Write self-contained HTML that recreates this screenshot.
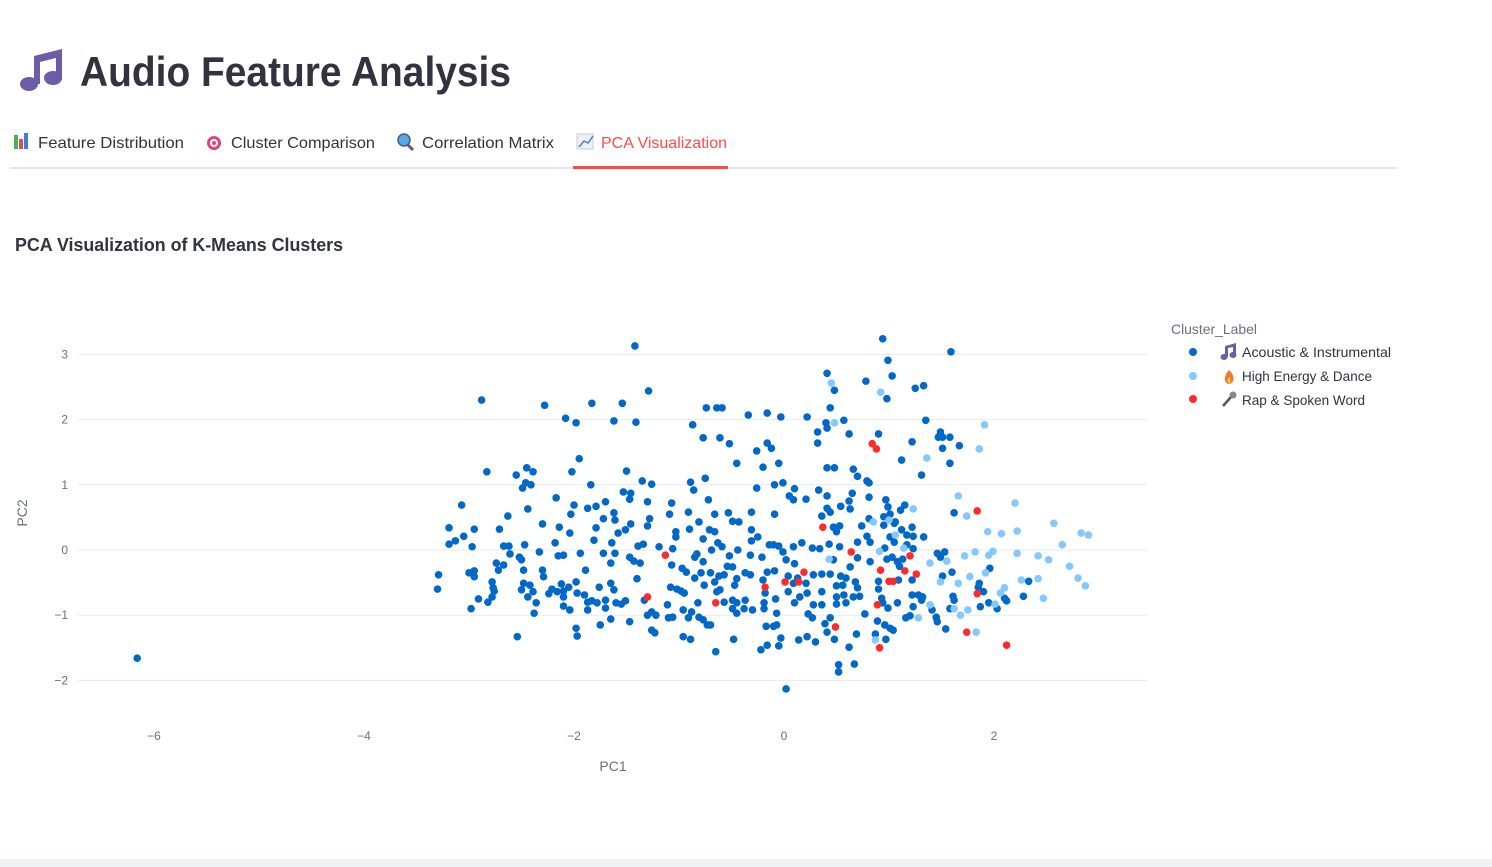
<!DOCTYPE html>
<html><head><meta charset="utf-8"><style>
html,body{margin:0;padding:0;background:#fff;width:1492px;height:867px;overflow:hidden}
svg{display:block;font-family:"Liberation Sans","DejaVu Sans",sans-serif}
</style></head><body>
<svg id="page" width="1492" height="867" viewBox="0 0 1492 867">
<g>
  <g fill="#6f5ca8">
    <path d="M34 56 L62 49 L62 80 L56 80 L56 58 L40 62 L40 84 L34 84 Z"/>
    <ellipse cx="29" cy="84" rx="9" ry="7"/>
    <ellipse cx="53" cy="78" rx="9" ry="7"/>
  </g>
  <text x="80" y="86" font-size="42" fill="#31333f" font-weight="bold" textLength="431" lengthAdjust="spacingAndGlyphs">Audio Feature Analysis</text>
</g>
<g font-size="16">
  <rect x="10" y="167" width="1387" height="2" fill="#e6e6ea"/>
  <g>
    <rect x="14" y="135" width="4" height="14" fill="#4caf50"/><rect x="19" y="139" width="4" height="10" fill="#e04a6a"/><rect x="24" y="133" width="4" height="16" fill="#3f7fd6"/>
    <text x="38" y="148" fill="#31333f" textLength="146" lengthAdjust="spacingAndGlyphs">Feature Distribution</text>
  </g>
  <g>
    <circle cx="214" cy="143" r="7" fill="#e0457a"/><circle cx="214" cy="143" r="4" fill="#fff"/><circle cx="214" cy="143" r="2" fill="#e0457a"/>
    <text x="231" y="148" fill="#31333f" textLength="144" lengthAdjust="spacingAndGlyphs">Cluster Comparison</text>
  </g>
  <g>
    <circle cx="404" cy="140" r="6" fill="#5aa9e6" stroke="#3a5f8a" stroke-width="1.5"/><line x1="408" y1="145" x2="413" y2="150" stroke="#7a4a8a" stroke-width="3"/>
    <text x="422" y="148" fill="#31333f" textLength="132" lengthAdjust="spacingAndGlyphs">Correlation Matrix</text>
  </g>
  <g>
    <rect x="577" y="134" width="16" height="15" fill="#eef0f6" stroke="#c8cbd6" stroke-width="1"/><polyline points="579,147 584,141 588,143 593,136" fill="none" stroke="#4a7fd0" stroke-width="1.5"/>
    <text x="601" y="148" fill="#ff4b4b" textLength="126" lengthAdjust="spacingAndGlyphs">PCA Visualization</text>
    <rect x="573" y="166" width="155" height="3" fill="#ff4b4b"/>
  </g>
</g>
<text x="15" y="251" font-size="18" font-weight="bold" fill="#31333f" textLength="328" lengthAdjust="spacingAndGlyphs">PCA Visualization of K-Means Clusters</text>
<g id="plot"></g>
<g font-size="14">
  <text x="1171" y="334" fill="#6b7080" textLength="86" lengthAdjust="spacingAndGlyphs">Cluster_Label</text>
  <g>
    <circle cx="1193" cy="352" r="4" fill="#0068c9"/>
    <g fill="#6f5ca8"><path d="M1225 346 L1236 343 L1236 355 L1233 355 L1233 347 L1228 348 L1228 357 L1225 357Z"/><ellipse cx="1224" cy="357" rx="3.5" ry="3"/><ellipse cx="1233" cy="355" rx="3.5" ry="3"/></g>
    <text x="1242" y="357" fill="#31333f" textLength="149" lengthAdjust="spacingAndGlyphs">Acoustic &amp; Instrumental</text>
  </g>
  <g>
    <circle cx="1193" cy="376" r="4" fill="#83c9ff"/>
    <path d="M1229 370 C1224 375 1223 383 1229 384 C1235 383 1235 375 1229 370Z" fill="#f07a2a"/><path d="M1229 377 C1227 380 1227 383 1229 383 C1231 383 1231 380 1229 377Z" fill="#ffcb4a"/>
    <text x="1242" y="381" fill="#31333f" textLength="130" lengthAdjust="spacingAndGlyphs">High Energy &amp; Dance</text>
  </g>
  <g>
    <circle cx="1193" cy="399" r="4" fill="#ff2b2b"/>
    <line x1="1223" y1="406" x2="1231" y2="397" stroke="#555" stroke-width="2.5"/><circle cx="1233" cy="395" r="3.5" fill="#888"/>
    <text x="1242" y="405" fill="#31333f" textLength="123" lengthAdjust="spacingAndGlyphs">Rap &amp; Spoken Word</text>
  </g>
</g>
<rect x="0" y="859" width="1492" height="8" fill="#f0f2f6"/>
</svg>
<script>
const xTicks = [-6, -4, -2, 0, 2];
const yTicks = [-2, -1, 0, 1, 2, 3];
const tickLabel = v => v < 0 ? "\u2212" + Math.abs(v) : String(v);
const acousticX = [-6.16,-1.42,-1.29,-2.88,-2.28,-1.83,-1.54,-2.08,-1.98,-1.62,-1.41,-0.87,-0.74,-0.64,-0.59,-0.34,-0.16,-0.77,-0.61,-0.52,-0.26,-0.16,-0.45,-0.20,-2.83,-2.55,-2.45,-2.39,-2.49,-2.46,-2.41,-2.02,-1.95,-1.50,-1.84,-1.35,-1.26,-0.89,-0.75,-0.86,-0.26,-3.07,-2.44,-2.17,-2.00,-2.03,-1.87,-1.79,-1.70,-1.53,-1.46,-1.47,-1.30,-1.07,-0.72,-2.63,-1.62,-1.61,-1.72,-1.28,-1.09,-0.91,-0.66,-0.53,-0.49,-0.43,-0.31,-0.81,-2.30,-2.14,-1.46,-1.30,-3.19,-2.95,-2.71,
0.94,1.59,0.99,0.41,1.03,0.78,0.48,1.25,1.33,0.98,0.44,-0.03,0.22,0.40,0.41,0.57,0.32,0.32,0.62,0.90,1.35,1.22,1.49,1.51,1.47,1.58,1.67,1.51,1.58,1.12,1.31,-0.12,-0.05,0.41,0.48,0.66,0.70,0.79,0.81,-0.09,-0.01,0.10,0.05,0.09,0.21,0.33,0.41,0.65,0.81,0.97,0.62,0.54,0.99,1.15,1.11,0.41,0.44,0.63,-0.09,0.36,1.62,1.01,0.95,0.81,1.06,
-3.05,-3.19,-3.13,-2.97,-2.67,-2.62,-2.61,-2.47,-2.04,-2.18,-2.33,-2.15,-2.10,-1.94,-1.81,-1.79,-1.64,-1.72,-1.61,-1.58,-1.51,-1.39,-1.34,-1.19,-1.06,-1.03,-1.03,-0.90,-0.77,-0.71,-0.66,-0.63,-0.59,-0.69,-0.44,-0.52,-0.31,-0.31,-0.25,-0.32,-0.21,-0.14,-3.29,-3.30,-3.00,-2.95,-2.95,-2.98,-2.91,-2.82,-2.78,-2.77,-2.76,-2.78,-2.74,-2.72,-2.67,-2.52,-2.50,-2.48,-2.48,-2.50,-2.42,-2.39,-2.44,-2.36,-2.38,-2.54,-2.30,-2.29,-2.24,-2.21,-2.12,-2.16,-2.10,-2.10,-2.05,-2.10,-2.04,-1.98,-1.97,-1.90,-1.89,-1.98,-1.97,-1.87,-1.87,-1.83,-1.76,-1.78,-1.70,-1.70,-1.75,-1.65,-1.62,-1.65,-1.60,-1.55,-1.51,-1.47,-1.65,-1.47,-1.43,-1.37,-1.40,-1.33,-1.30,-1.26,-1.22,-1.26,-1.23,-1.11,-1.10,-1.06,-1.07,-1.08,-1.02,-0.98,-0.95,-0.97,-0.93,-0.85,-0.83,-0.77,-0.79,-0.85,-0.76,-0.70,-0.66,-0.62,-0.57,-0.54,-0.49,-0.45,-0.47,-0.82,-0.96,-0.91,-0.88,-0.81,-0.77,-0.73,-0.70,-0.96,-0.89,-0.65,-0.64,-0.61,-0.57,-0.49,-0.45,-0.37,-0.49,-0.45,-0.38,-0.30,-0.48,-0.37,-0.32,-0.20,-0.18,-0.19,-0.19,-0.17,-0.16,-0.22,-0.16,
0.47,0.53,0.50,0.74,0.79,0.82,0.70,0.95,1.05,1.01,1.05,1.12,1.17,1.22,1.23,1.33,1.17,1.23,0.96,-0.10,-0.05,-0.01,0.09,0.17,0.27,0.34,0.43,0.53,0.47,0.63,0.70,0.82,0.98,1.03,1.08,1.13,1.10,0.02,0.10,-0.09,0.04,0.13,0.28,0.36,0.44,0.54,0.59,0.09,0.21,0.50,0.56,0.68,0.70,0.90,0.90,1.09,1.22,0.04,0.15,0.22,0.36,0.50,0.57,0.66,0.72,0.93,-0.08,0.10,0.28,0.36,0.50,0.59,0.94,0.99,1.08,1.22,1.28,1.32,1.23,1.31,1.41,0.77,-0.07,0.23,0.27,0.44,0.39,0.89,0.96,1.01,1.04,1.16,1.20,1.45,1.46,1.54,-0.10,-0.07,-0.03,-0.05,0.14,0.22,0.30,0.41,0.48,0.69,0.62,0.87,0.97,0.52,0.52,0.67,0.02,1.46,1.49,1.53,1.51,1.60,1.61,1.62,1.58,1.86,1.85,1.90,1.87,1.95,2.03,2.10,2.12,2.28,2.33,1.96,1.45];
const acousticY = [-1.66,3.13,2.44,2.30,2.22,2.25,2.25,2.02,1.95,1.98,1.96,1.92,2.18,2.18,2.18,2.07,2.10,1.72,1.72,1.63,1.52,1.64,1.33,1.27,1.20,1.15,1.26,1.20,0.95,1.03,1.00,1.20,1.40,1.21,1.00,1.06,1.01,1.04,1.10,0.92,0.95,0.69,0.63,0.80,0.69,0.55,0.64,0.67,0.74,0.89,0.87,0.78,0.74,0.72,0.77,0.52,0.57,0.46,0.48,0.48,0.55,0.58,0.55,0.57,0.44,0.43,0.58,0.43,0.40,0.35,0.40,0.37,0.34,0.32,0.32,
3.24,3.04,2.91,2.71,2.67,2.59,2.45,2.48,2.52,2.32,2.18,2.04,2.04,1.95,1.87,1.99,1.81,1.64,1.78,1.78,1.99,1.66,1.81,1.73,1.73,1.73,1.60,1.56,1.33,1.38,1.15,1.56,1.33,1.26,1.26,1.24,1.13,1.06,1.03,1.00,1.03,0.94,0.83,0.77,0.78,0.92,0.83,0.87,0.81,0.77,0.75,0.67,0.66,0.69,0.61,0.64,0.58,0.63,0.55,0.52,0.57,0.55,0.51,0.48,0.43,
0.21,0.09,0.14,0.05,0.06,0.06,-0.06,0.08,0.26,0.11,-0.03,-0.09,-0.08,-0.05,0.15,0.34,0.11,-0.05,-0.05,0.26,0.31,0.06,0.09,0.05,0.02,0.28,0.20,0.32,0.17,0.31,0.28,0.11,0.05,0,0,-0.09,0.31,0.14,0.20,-0.08,-0.11,0.08,-0.38,-0.60,-0.35,-0.41,-0.32,-0.90,-0.75,-0.80,-0.49,-0.58,-0.63,-0.72,-0.20,-0.31,-0.23,-0.11,-0.15,-0.31,-0.51,-0.61,-0.54,-0.64,-0.72,-0.81,-0.97,-1.33,-0.31,-0.41,-0.67,-0.60,-0.52,-0.64,-0.63,-0.72,-0.57,-0.86,-0.92,-0.49,-0.66,-0.69,-0.31,-1.20,-1.32,-0.80,-0.92,-0.78,-0.57,-0.81,-0.77,-0.89,-1.15,-0.51,-0.61,-1.06,-0.81,-0.83,-0.78,-1.10,-0.20,-0.11,-0.17,-0.20,-0.44,-0.77,-1.00,-0.95,-1.00,-1.23,-1.27,-0.84,-1.04,-1.03,-0.23,-0.57,-0.60,-0.63,-0.66,-0.28,-0.34,-0.11,-0.06,-0.18,-0.35,-0.43,-0.54,-0.35,-0.49,-0.40,-0.38,-0.25,-0.26,-0.44,-0.54,-0.81,-0.92,-1.04,-0.95,-1.03,-1.07,-1.15,-1.15,-1.33,-1.37,-1.56,-0.64,-0.61,-0.80,-0.77,-0.81,-0.77,-0.90,-0.97,-0.90,-0.92,-1.37,-0.35,-0.38,-0.46,-0.66,-0.81,-0.90,-1.17,-1.46,-1.53,-0.34,
0.35,0.37,0.28,0.37,0.21,0.12,0.12,0.38,0.41,0.20,0.12,0.31,0.23,0.35,0.21,0.20,0.08,0.02,0.03,0.08,0.06,-0.03,0.05,0.11,0.03,0.02,0.09,0.05,-0.15,-0.26,-0.12,-0.18,-0.14,-0.11,-0.18,-0.14,-0.25,-0.15,-0.21,-0.32,-0.40,-0.43,-0.38,-0.37,-0.37,-0.40,-0.43,-0.51,-0.51,-0.55,-0.54,-0.49,-0.58,-0.48,-0.60,-0.46,-0.46,-0.64,-0.72,-0.66,-0.64,-0.72,-0.69,-0.72,-0.71,-0.74,-0.75,-0.81,-0.84,-0.84,-0.83,-0.81,-0.81,-0.89,-0.81,-0.69,-0.69,-0.72,-0.87,-0.77,-0.92,-0.98,-0.97,-0.98,-1.04,-1.04,-1.13,-1.09,-1.15,-1.20,-1.23,-1.04,-1.01,-1.03,-1.10,-1.21,-1.17,-1.15,-1.35,-1.47,-1.38,-1.33,-1.41,-1.26,-1.37,-1.29,-1.49,-1.29,-1.37,-1.76,-1.87,-1.75,-2.13,-0.05,-0.11,-0.03,-0.40,-0.34,-0.71,-0.77,-0.90,-0.51,-0.57,-0.64,-0.87,-0.81,-0.90,-0.74,-0.78,-0.71,-0.48,-0.28,-1.04];
const energyX = [0.45,0.92,0.48,1.91,1.36,1.86,1.66,2.20,2.57,1.74,1.23,0.85,1.06,2.07,2.83,2.90,2.65,2.52,2.42,2.22,1.99,1.82,1.72,1.55,1.39,1.14,0.91,2.72,2.80,2.87,2.26,2.42,2.47,2.06,2.01,1.75,1.62,1.39,1.28,1.77,1.66,1.92,0.87,1.83,0.43,1.00,2.22,1.94,1.49,1.95,2.10,1.68];
const energyY = [2.56,2.42,1.95,1.92,1.41,1.55,0.83,0.72,0.41,0.52,0.63,0.43,0.23,0.25,0.26,0.23,0.08,-0.15,-0.09,-0.05,-0.02,-0.03,-0.09,-0.17,-0.20,0.03,-0.02,-0.25,-0.43,-0.55,-0.46,-0.44,-0.74,-0.66,-0.83,-0.92,-0.90,-0.84,-1.04,-0.41,-0.51,-0.35,-1.38,-1.26,-0.14,0.46,0.29,0.28,-0.49,-0.08,-0.58,-1.00];
const rapX = [0.84,0.88,0.37,1.84,-1.13,0.64,0.92,1.15,1.26,1.00,1.04,-0.18,0.01,0.14,0.19,-1.30,-0.65,0.89,1.84,0.49,1.74,2.12,0.91,1.20];
const rapY = [1.63,1.55,0.35,0.60,-0.08,-0.03,-0.31,-0.32,-0.37,-0.48,-0.48,-0.57,-0.49,-0.49,-0.34,-0.72,-0.81,-0.84,-0.67,-1.18,-1.26,-1.46,-1.50,-0.09];

const NS = "http://www.w3.org/2000/svg";
const plot = document.getElementById("plot");
const X0 = 784, XS = 105, Y0 = 550, YS = 65.2;
const sx = v => X0 + v * XS;
const sy = v => Y0 - v * YS;
function mk(tag, attrs) { const e = document.createElementNS(NS, tag); for (const k in attrs) e.setAttribute(k, attrs[k]); return e; }

yTicks.forEach(t => {
  const g = mk("line", {x1: 78, x2: 1147, y1: sy(t), y2: sy(t), stroke: "#e8eaf0", "stroke-width": 1});
  
  
  plot.appendChild(g);
  const l = mk("text", {x: 68, y: sy(t) + 4, "text-anchor": "end", "font-size": 12, fill: "#6b7080"});
  
  
  l.textContent = tickLabel(t);
  plot.appendChild(l);
});
xTicks.forEach(t => {
  const l = mk("text", {x: sx(t), y: 740, "text-anchor": "middle", "font-size": 12, fill: "#6b7080"});
  
  
  l.textContent = tickLabel(t);
  plot.appendChild(l);
});
const xt = mk("text", {x: 613, y: 771, "text-anchor": "middle", "font-size": 14, fill: "#6b7080"});


xt.textContent = "PC1";
plot.appendChild(xt);
const yt = mk("text", {x: 0, y: 0, "text-anchor": "middle", "font-size": 14, fill: "#6b7080", transform: "translate(27,513) rotate(-90)"});


yt.textContent = "PC2";
plot.appendChild(yt);

function series(xs, ys, color, name) {
  const g = mk("g", {fill: color});
  
  
  xs.forEach((x, i) => {
    const c = mk("circle", {cx: sx(x), cy: sy(ys[i]), r: 3.8});
    
    
    g.appendChild(c);
  });
  plot.appendChild(g);
}
series(acousticX, acousticY, "#0068c9", "acoustic");
series(energyX, energyY, "#83c9ff", "high-energy");
series(rapX, rapY, "#ff2b2b", "rap");
</script>
</body></html>
